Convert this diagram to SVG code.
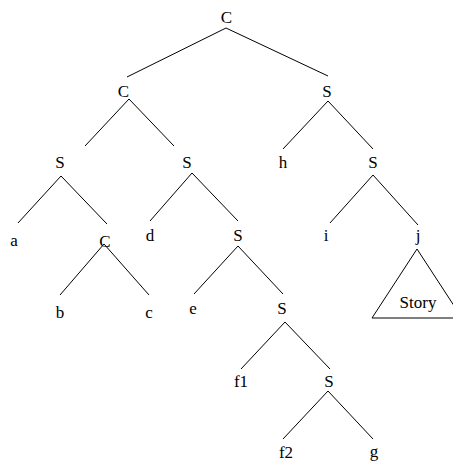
<svg xmlns="http://www.w3.org/2000/svg" width="453" height="462" viewBox="0 0 453 462">
<style>
text{font-family:"Liberation Serif","Times New Roman",serif;font-size:17px;fill:#000;text-anchor:middle}
line,polygon{stroke:#000;stroke-width:1;fill:none}
</style>
<rect width="453" height="462" fill="#fff"/>
<g id="connectors">
<line x1="226" y1="28" x2="127" y2="77"/>
<line x1="226" y1="28" x2="328" y2="76"/>
<line x1="129" y1="99" x2="85" y2="146"/>
<line x1="129" y1="99" x2="174" y2="146"/>
<line x1="328" y1="101" x2="283" y2="149"/>
<line x1="328" y1="101" x2="373" y2="149"/>
<line x1="61" y1="176" x2="18" y2="223"/>
<line x1="61" y1="176" x2="107" y2="224"/>
<line x1="192" y1="173" x2="150" y2="221"/>
<line x1="192" y1="173" x2="238" y2="221"/>
<line x1="373" y1="175" x2="330" y2="223"/>
<line x1="373" y1="175" x2="418" y2="225"/>
<line x1="104" y1="244" x2="60" y2="295"/>
<line x1="104" y1="244" x2="149" y2="295"/>
<line x1="238" y1="246" x2="194" y2="294"/>
<line x1="238" y1="246" x2="283" y2="294"/>
<line x1="285" y1="322" x2="241" y2="369"/>
<line x1="285" y1="322" x2="330" y2="369"/>
<line x1="328" y1="391" x2="283" y2="439"/>
<line x1="328" y1="391" x2="373" y2="439"/>
</g>
<g id="n-root"><text x="226.5" y="23">C</text></g>
<g id="n-c1"><text x="123.5" y="96.5">C</text></g>
<g id="n-s1"><text x="327" y="96.5">S</text></g>
<g id="n-s2"><text x="60" y="168">S</text></g>
<g id="n-s3"><text x="187" y="168">S</text></g>
<g id="n-h"><text x="283" y="168">h</text></g>
<g id="n-s4"><text x="373" y="168">S</text></g>
<g id="n-a"><text x="14" y="246">a</text></g>
<g id="n-c2"><text x="105" y="246.5">C</text></g>
<g id="n-d"><text x="150" y="241">d</text></g>
<g id="n-s5"><text x="238" y="241">S</text></g>
<g id="n-i"><text x="326" y="241">i</text></g>
<g id="n-j"><text x="418" y="241">j</text></g>
<g id="n-b"><text x="60" y="318">b</text></g>
<g id="n-c"><text x="149" y="318">c</text></g>
<g id="n-e"><text x="193" y="314">e</text></g>
<g id="n-s6"><text x="282" y="314">S</text></g>
<g id="n-f1"><text x="241" y="387">f1</text></g>
<g id="n-s7"><text x="329" y="387">S</text></g>
<g id="n-f2"><text x="286" y="458">f2</text></g>
<g id="n-g"><text x="374" y="457">g</text></g>
<g id="n-story"><polygon points="417,249 372,318 462,318"/><text x="418" y="308">Story</text></g>
</svg>
